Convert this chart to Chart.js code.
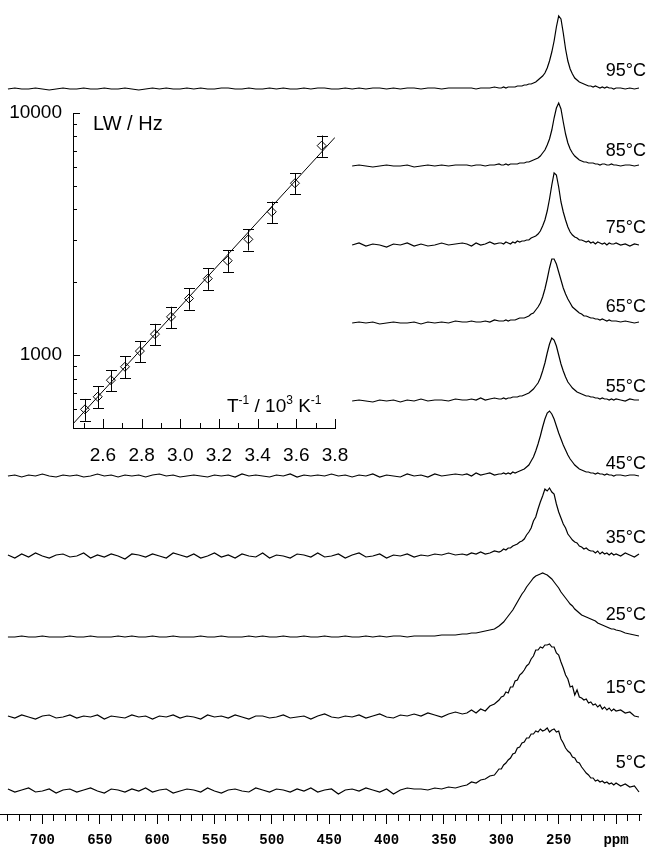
<!DOCTYPE html>
<html>
<head>
<meta charset="utf-8">
<script src="https://cdn.jsdelivr.net/npm/chart.js"></script>
<style>
  html, body { margin: 0; padding: 0; background: #fff; }
  #wrap { position: relative; width: 647px; height: 847px; }
  #wrap canvas { position: absolute; left: 0; top: 0; }
</style>
</head>
<body>
<div id="wrap">
  <canvas id="spectra" width="647" height="847"></canvas>
  <canvas id="inset" width="647" height="847"></canvas>
</div>
<script>
// chemical shift grid (ppm) shared by every trace
const ppm = [730,724,718,712,706,700,694,688,682,676,
  670,664,658,652,646,640,634,628,622,616,
  610,604,598,592,586,580,574,568,562,556,
  550,544,538,532,526,520,514,508,502,496,
  490,484,478,472,466,460,454,448,442,436,
  430,424,418,412,406,400,394,388,382,376,
  370,364,358,352,346,340,334,
  330,326,322,318,314,310,306,302,
  300,298,296,294,292,290,288,286,284,282,
  280,278,276,274,272,270,268,266,264,262,
  260,258,256,254,252,250,248,246,244,242,
  240,238,236,234,232,230,228,226,224,222,
  220,218,216,214,212,210,208,206,204,202,
  200,
  196,192,188,184,180];

const ppmLabels = [700, 650, 600, 550, 500, 450, 400, 350, 300, 250];
const temps = ['95°C', '85°C', '75°C', '65°C', '55°C', '45°C', '35°C', '25°C', '15°C', '5°C'];

// trace intensities (short traces begin at 430 ppm)
const spec95 = [0,1,0,0,1,0,-1,0,1,0,
  0,1,0,0,1,0,0,1,0,-1,
  0,1,0,1,0,0,1,0,1,0,
  0,1,1,0,0,1,0,0,1,0,
  1,0,0,1,0,1,1,0,0,1,
  0,1,0,1,1,0,1,0,1,1,
  0,1,1,0,1,1,1,
  1,1,0,1,1,1,2,1,
  1,2,1,2,2,2,2,3,3,3,
  4,4,5,5,6,7,9,11,13,16,
  21,28,37,48,62,73,70,56,40,28,
  20,15,11,9,7,6,5,4,3,3,
  2,3,2,1,2,1,2,1,1,0,
  1,
  1,0,1,0,1];

const spec85 = [0,1,0,-1,0,1,0,0,1,-1,
  0,1,0,1,0,1,1,
  1,0,1,1,0,1,1,2,
  1,1,2,1,2,2,2,2,3,3,
  3,4,4,5,6,7,8,10,13,16,
  21,27,36,48,58,63,57,44,32,23,
  17,13,10,8,6,5,4,4,3,3,
  3,2,2,1,2,2,1,1,2,1,
  1,
  0,1,1,0,1];

const spec75 = [0,2,-1,1,0,-2,1,0,2,-1,
  1,-1,0,2,0,1,2,
  1,-1,2,0,1,3,1,2,
  2,1,3,2,1,3,2,4,3,4,
  4,5,5,7,8,9,11,14,19,25,
  34,46,60,72,70,58,43,33,25,18,
  13,10,8,7,5,5,4,3,4,2,
  3,1,3,2,1,2,0,2,1,1,
  2,
  0,1,-1,1,0];

const spec65 = [0,1,0,1,-1,0,1,0,0,1,
  -1,1,0,1,0,2,1,
  1,2,1,1,2,1,3,2,
  2,2,3,2,3,3,3,4,5,5,
  5,6,7,9,10,13,16,20,26,34,
  44,55,64,64,59,51,43,35,29,24,
  20,16,14,12,10,9,7,7,6,5,
  5,4,4,3,4,3,2,3,2,2,
  2,
  1,2,1,0,1];

const spec55 = [0,1,0,-1,1,0,1,-1,1,0,
  2,0,1,1,0,2,1,
  1,2,1,3,1,2,3,2,
  2,3,2,3,3,4,4,4,5,5,
  6,7,8,10,12,15,18,23,30,38,
  48,57,63,61,55,46,37,30,24,19,
  16,13,11,9,8,7,6,5,5,4,
  4,3,3,2,3,2,2,1,2,1,
  2,
  1,0,2,1,1];

const spec45 = [0,1,-1,1,0,2,0,-1,1,0,
  1,-1,0,2,0,1,-1,1,0,1,
  -1,1,2,0,1,-1,0,1,0,-1,
  1,0,1,-1,2,0,1,0,-1,1,
  0,2,-1,1,0,1,0,2,0,1,
  -1,1,0,2,-1,1,0,-1,2,0,
  1,-1,2,0,1,2,1,
  2,0,3,1,2,3,1,2,
  2,3,2,3,2,4,3,4,5,6,
  7,9,11,15,19,25,32,40,49,57,
  63,65,62,57,50,43,37,31,26,21,
  17,14,11,9,7,6,5,4,4,3,
  3,2,3,2,2,1,2,1,1,0,
  1,
  1,0,1,1,0];

const spec35 = [1,-2,2,-1,3,0,-2,1,2,-1,
  0,3,-2,1,-1,2,0,-3,2,1,
  -1,2,0,-2,3,1,-1,2,-2,0,
  3,-1,1,-2,2,0,-1,3,-2,1,
  0,-2,2,1,-1,3,-1,0,2,-2,
  1,3,-1,0,2,-2,1,0,2,-1,
  1,0,2,1,3,1,2,
  1,3,2,4,2,3,5,4,
  5,7,6,8,8,10,11,12,14,15,
  17,21,24,28,35,39,47,54,60,67,
  65,68,64,62,52,44,38,32,28,22,
  19,16,14,13,10,9,7,8,6,5,
  5,3,5,2,4,2,3,1,3,1,
  2,
  0,3,1,-1,2];

const spec25 = [0,0,1,0,0,1,0,0,0,1,
  0,0,1,0,0,0,1,0,1,0,
  0,1,0,0,1,0,0,0,1,0,
  0,1,0,0,0,1,0,1,0,0,
  1,0,0,1,0,0,1,0,0,1,
  0,0,1,0,1,0,1,1,0,1,
  1,1,1,2,2,2,3,
  3,4,4,5,6,7,8,11,
  13,15,18,21,24,27,31,35,39,43,
  46,50,53,56,59,61,62,63,64,63,
  62,60,58,55,52,49,45,42,39,36,
  33,31,28,26,24,22,21,20,19,18,
  17,16,14,13,12,11,10,9,8,8,
  7,
  6,4,3,2,1];

const spec15 = [1,-1,2,0,-2,1,2,-1,0,2,
  -1,1,0,2,-2,1,0,-1,2,0,
  1,-2,1,0,2,-1,1,0,-2,2,
  0,1,-1,2,0,-2,1,1,-1,0,
  2,-1,0,1,-2,1,3,0,-1,1,
  0,2,-1,1,3,0,-1,2,1,3,
  1,4,2,0,3,5,3,
  4,7,4,8,6,11,13,17,
  20,21,25,24,30,30,36,37,42,44,
  47,51,53,58,61,67,67,70,69,72,
  72,73,70,70,64,62,55,49,42,38,
  30,31,22,27,20,19,17,18,14,15,
  12,13,10,12,8,10,7,9,6,8,
  6,
  7,4,5,1,0];

const spec5 = [2,-1,1,3,-1,0,2,-2,1,2,
  -1,1,3,0,-2,2,1,-1,2,0,
  3,-1,1,2,-2,0,2,1,-1,3,
  0,-2,1,2,0,-1,3,1,-1,2,
  1,-1,2,0,3,-1,1,2,-3,1,
  2,0,3,1,-1,2,-3,1,3,2,
  2,1,3,2,4,3,5,
  6,9,8,11,12,15,16,22,
  22,26,28,31,33,37,38,43,44,48,
  49,53,53,57,57,60,59,62,60,61,
  63,59,61,62,59,60,52,48,43,40,
  38,34,33,29,28,24,21,18,16,13,
  13,10,11,9,10,8,9,7,8,6,
  8,
  5,7,4,5,-1];

// inset: line width against inverse temperature
const invT = [2.507, 2.573, 2.641, 2.714, 2.791, 2.869, 2.952, 3.045, 3.142, 3.245, 3.352, 3.473, 3.593, 3.731];
const lw = [597, 673, 788, 895, 1039, 1221, 1439, 1714, 2070, 2455, 3008, 3908, 5128, 7331];
const lwErr = [62, 70, 80, 92, 105, 125, 145, 175, 210, 250, 305, 395, 520, 740];
const fitT = [2.445, 3.8];
const fitLW = [520, 7930];
const insetXLabels = ['2.6', '2.8', '3.0', '3.2', '3.4', '3.6', '3.8'];
const insetYLabels = [1000, 10000];

// ---- stacking (layout only) ----
const spectra = [spec95, spec85, spec75, spec65, spec55, spec45, spec35, spec25, spec15, spec5];
const baseline = [725, 648, 569, 491, 413, 338, 258, 177, 97, 23];
const labelGap = [18, 15, 17, 16, 14, 12, 18, 22, 29, 28];

Chart.defaults.font.family = '"Liberation Sans", Arial, sans-serif';
Chart.defaults.color = '#000';

const datasets = spectra.map((vals, k) => {
  const start = ppm.length - vals.length;
  return {
    label: temps[k],
    data: vals.map((v, i) => ({ x: ppm[start + i], y: baseline[k] + v })),
    showLine: true,
    borderColor: '#000',
    borderWidth: 1.2,
    pointRadius: 0,
    tension: 0
  };
});

const tempLabels = {
  id: 'tempLabels',
  afterDatasetsDraw(chart) {
    const { ctx, scales: { y } } = chart;
    ctx.save();
    ctx.font = '18px "Liberation Sans", Arial, sans-serif';
    ctx.fillStyle = '#000';
    ctx.textAlign = 'right';
    ctx.textBaseline = 'middle';
    temps.forEach((t, k) => {
      ctx.fillText(t, 646, y.getPixelForValue(baseline[k] + labelGap[k]));
    });
    ctx.restore();
  }
};

new Chart(document.getElementById('spectra'), {
  type: 'scatter',
  data: { datasets },
  options: {
    responsive: false,
    animation: false,
    events: [],
    layout: { padding: 0 },
    plugins: { legend: { display: false }, tooltip: { enabled: false } },
    scales: {
      x: {
        type: 'linear',
        reverse: true,
        min: 177.5,
        max: 736.5,
        afterFit: s => { s.height = 33; },
        border: { display: true, color: '#000', width: 1 },
        grid: {
          drawOnChartArea: false,
          drawTicks: true,
          tickLength: 10,
          tickWidth: 1,
          tickColor: c => (c.tick && c.tick.value % 10 === 0) ? '#000' : 'rgba(0,0,0,0)',
          tickBorderDash: c => (c.tick && c.tick.value % 50 !== 0) ? [6, 40] : []
        },
        ticks: {
          stepSize: 10,
          includeBounds: false,
          autoSkip: false,
          maxRotation: 0,
          padding: 8,
          color: '#000',
          font: { family: '"Liberation Mono", "DejaVu Sans Mono", monospace', size: 14, weight: 'bold' },
          callback: v => v === 200 ? 'ppm' : (ppmLabels.includes(v) ? String(v) : '')
        }
      },
      y: { display: false, min: 0, max: 814 }
    }
  },
  plugins: [tempLabels]
});

// ---- inset ----
const insetDecor = {
  id: 'insetDecor',
  afterDatasetsDraw(chart) {
    const { ctx, scales: { x, y } } = chart;
    ctx.save();
    ctx.strokeStyle = '#000';
    ctx.lineWidth = 1;
    ctx.beginPath();
    // error bars
    invT.forEach((t, i) => {
      const px = Math.round(x.getPixelForValue(t)) + 0.5;
      const lo = y.getPixelForValue(lw[i] - lwErr[i]);
      const hi = y.getPixelForValue(lw[i] + lwErr[i]);
      ctx.moveTo(px, lo); ctx.lineTo(px, hi);
      ctx.moveTo(px - 5.5, Math.round(lo) + 0.5); ctx.lineTo(px + 5.5, Math.round(lo) + 0.5);
      ctx.moveTo(px - 5.5, Math.round(hi) + 0.5); ctx.lineTo(px + 5.5, Math.round(hi) + 0.5);
    });
    // inward tick marks
    const yMarks = [600, 700, 800, 900, 1000, 2000, 3000, 4000, 5000, 6000, 7000, 8000, 9000, 10000];
    yMarks.forEach(v => {
      const py = Math.round(y.getPixelForValue(v)) + 0.5;
      const len = insetYLabels.includes(v) ? 7 : 4;
      ctx.moveTo(x.left, py); ctx.lineTo(x.left + len, py);
    });
    for (let k = 25; k <= 38; k++) {
      const px = Math.round(x.getPixelForValue(k / 10)) + 0.5;
      const len = k % 2 === 0 ? 9 : 5;
      ctx.moveTo(px, y.bottom); ctx.lineTo(px, y.bottom - len);
    }
    ctx.stroke();

    // axis captions
    ctx.fillStyle = '#000';
    ctx.textBaseline = 'alphabetic';
    ctx.textAlign = 'left';
    ctx.font = '20px "Liberation Sans", Arial, sans-serif';
    ctx.fillText('LW / Hz', 93, 130);

    const big = '19px "Liberation Sans", Arial, sans-serif';
    const small = '12px "Liberation Sans", Arial, sans-serif';
    const parts = [['T', big, 0], ['-1', small, -8], [' / 10', big, 0], ['3', small, -8], [' K', big, 0], ['-1', small, -8]];
    let cx = 227;
    parts.forEach(([s, f, dy]) => {
      ctx.font = f;
      ctx.fillText(s, cx, 412 + dy);
      cx += ctx.measureText(s).width;
    });
    ctx.restore();
  }
};

new Chart(document.getElementById('inset'), {
  type: 'scatter',
  data: {
    datasets: [
      {
        data: fitT.map((t, i) => ({ x: t, y: fitLW[i] })),
        showLine: true,
        borderColor: '#000',
        borderWidth: 1,
        pointRadius: 0
      },
      {
        data: invT.map((t, i) => ({ x: t, y: lw[i] })),
        pointStyle: 'rectRot',
        pointRadius: 4.5,
        borderWidth: 1,
        borderColor: '#000',
        backgroundColor: 'rgba(0,0,0,0)'
      }
    ]
  },
  options: {
    responsive: false,
    animation: false,
    events: [],
    layout: { padding: { left: 3, right: 312, top: 113, bottom: 379 } },
    plugins: { legend: { display: false }, tooltip: { enabled: false } },
    scales: {
      x: {
        type: 'linear',
        min: 2.445,
        max: 3.8,
        afterFit: s => { s.height = 40; },
        border: { display: true, color: '#000', width: 1 },
        grid: { display: false, drawTicks: false },
        ticks: {
          stepSize: 0.1,
          autoSkip: false,
          maxRotation: 0,
          padding: 16,
          color: '#000',
          font: { size: 19 },
          callback: v => {
            const s = (Math.round(v * 10) / 10).toFixed(1);
            return (Math.abs(v * 10 - Math.round(v * 10)) < 1e-6 && insetXLabels.includes(s)) ? s : '';
          }
        }
      },
      y: {
        type: 'logarithmic',
        min: 500,
        max: 10000,
        afterFit: s => { s.width = 70; },
        border: { display: true, color: '#000', width: 1 },
        grid: { display: false, drawTicks: false },
        ticks: {
          autoSkip: false,
          padding: 11,
          color: '#000',
          font: { size: 19 },
          callback: v => insetYLabels.includes(Math.round(v)) ? String(Math.round(v)) : ''
        }
      }
    }
  },
  plugins: [insetDecor]
});
</script>
</body>
</html>
